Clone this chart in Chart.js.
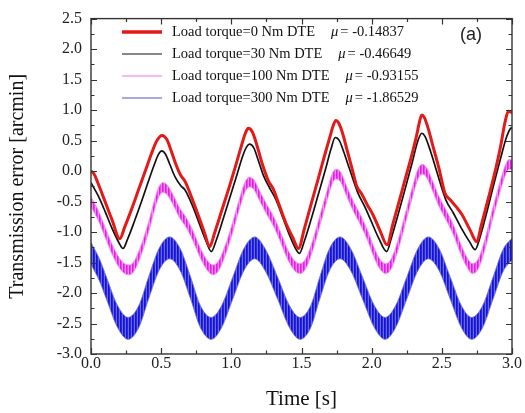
<!DOCTYPE html>
<html>
<head>
<meta charset="utf-8">
<script src="https://cdn.jsdelivr.net/npm/chart.js@4"></script>
<style>
  body { margin: 0; background: #fff; }
</style>
</head>
<body>
<canvas id="c" width="525" height="413"></canvas>
<script>
// Load torque = 0 Nm (red)
const tRed = [0.00, 0.02, 0.05, 0.10, 0.15, 0.205, 0.24, 0.29, 0.34, 0.39, 0.43, 0.47, 0.506, 0.54, 0.57, 0.60, 0.639, 0.67, 0.72, 0.77, 0.81, 0.846,
  0.88, 0.93, 0.98, 1.03, 1.07, 1.10, 1.121, 1.15, 1.18, 1.22, 1.264, 1.30, 1.34, 1.39, 1.44, 1.478,
  1.52, 1.57, 1.62, 1.67, 1.705, 1.725, 1.745, 1.765, 1.79, 1.83, 1.865, 1.894, 1.93, 1.97, 2.01, 2.06, 2.11,
  2.15, 2.20, 2.25, 2.29, 2.32, 2.34, 2.357, 2.375, 2.40, 2.44, 2.48, 2.523, 2.56, 2.60, 2.64, 2.70, 2.749,
  2.78, 2.83, 2.88, 2.92, 2.95, 2.974, 3.00];
const errRed = [0.00, -0.04, -0.20, -0.50, -0.80, -1.11, -0.92, -0.62, -0.30, 0.02, 0.28, 0.50, 0.585, 0.52, 0.34, 0.14, -0.07, -0.17, -0.45, -0.76, -1.02, -1.24,
  -1.02, -0.66, -0.30, 0.08, 0.40, 0.62, 0.70, 0.64, 0.44, 0.12, -0.16, -0.30, -0.55, -0.86, -1.10, -1.27,
  -0.95, -0.53, -0.12, 0.30, 0.58, 0.74, 0.83, 0.79, 0.64, 0.30, 0.00, -0.25, -0.38, -0.56, -0.72, -0.98, -1.21,
  -0.88, -0.46, -0.04, 0.30, 0.58, 0.80, 0.92, 0.88, 0.72, 0.38, 0.04, -0.37, -0.47, -0.58, -0.70, -0.96, -1.16,
  -0.90, -0.46, 0.00, 0.42, 0.80, 0.98, 0.96];

// Load torque = 30 Nm (black)
const tBlack = [0.00, 0.05, 0.10, 0.15, 0.20, 0.228, 0.26, 0.31, 0.36, 0.41, 0.45, 0.48, 0.505, 0.53, 0.56, 0.60, 0.64, 0.67, 0.72, 0.77, 0.82, 0.857,
  0.89, 0.94, 0.99, 1.04, 1.08, 1.11, 1.13, 1.16, 1.19, 1.23, 1.276, 1.32, 1.37, 1.42, 1.46, 1.485,
  1.52, 1.57, 1.62, 1.67, 1.71, 1.74, 1.77, 1.80, 1.84, 1.90, 1.95, 2.00, 2.05, 2.107,
  2.14, 2.19, 2.24, 2.29, 2.33, 2.357, 2.38, 2.42, 2.46, 2.53, 2.58, 2.64, 2.70, 2.737,
  2.77, 2.82, 2.87, 2.92, 2.96, 2.99, 3.00];
const errBlack = [-0.19, -0.40, -0.66, -0.94, -1.18, -1.27, -1.12, -0.82, -0.50, -0.16, 0.10, 0.27, 0.33, 0.28, 0.12, -0.10, -0.24, -0.31, -0.55, -0.85, -1.15, -1.32,
  -1.15, -0.80, -0.43, -0.06, 0.24, 0.40, 0.44, 0.38, 0.19, -0.08, -0.29, -0.48, -0.78, -1.08, -1.28, -1.35,
  -1.15, -0.78, -0.38, 0.02, 0.36, 0.55, 0.50, 0.32, 0.05, -0.35, -0.58, -0.84, -1.10, -1.32,
  -1.10, -0.70, -0.28, 0.15, 0.50, 0.62, 0.57, 0.32, 0.02, -0.48, -0.68, -0.94, -1.17, -1.29,
  -1.10, -0.68, -0.22, 0.22, 0.55, 0.70, 0.71];

// Load torque = 100 Nm (magenta band, upper / lower envelope)
const tPink = [0.00, 0.05, 0.10, 0.15, 0.20, 0.24, 0.275, 0.31, 0.36, 0.41, 0.45, 0.48, 0.51, 0.54, 0.58, 0.63, 0.68, 0.73, 0.78, 0.83, 0.87,
  0.91, 0.96, 1.01, 1.06, 1.10, 1.13, 1.16, 1.20, 1.25, 1.30, 1.35, 1.40, 1.45, 1.49,
  1.53, 1.58, 1.63, 1.68, 1.72, 1.745, 1.78, 1.82, 1.87, 1.92, 1.97, 2.02, 2.06, 2.10,
  2.14, 2.19, 2.24, 2.29, 2.33, 2.36, 2.39, 2.43, 2.48, 2.53, 2.58, 2.63, 2.68, 2.72,
  2.76, 2.81, 2.86, 2.91, 2.95, 2.98, 3.00];
const pinkUpper = [-0.42, -0.64, -0.92, -1.20, -1.42, -1.52, -1.54, -1.47, -1.20, -0.84, -0.50, -0.28, -0.19, -0.22, -0.37, -0.60, -0.77, -1.00, -1.27, -1.47, -1.54,
  -1.47, -1.20, -0.84, -0.44, -0.17, -0.10, -0.14, -0.32, -0.54, -0.74, -1.00, -1.28, -1.47, -1.52,
  -1.44, -1.14, -0.74, -0.34, -0.04, 0.03, -0.02, -0.24, -0.50, -0.72, -0.97, -1.27, -1.45, -1.52,
  -1.44, -1.12, -0.70, -0.27, 0.03, 0.11, 0.06, -0.14, -0.42, -0.64, -0.87, -1.17, -1.42, -1.52,
  -1.44, -1.10, -0.64, -0.22, 0.08, 0.19, 0.18];
const pinkLower = [-0.58, -0.80, -1.08, -1.36, -1.58, -1.68, -1.70, -1.63, -1.36, -1.00, -0.66, -0.44, -0.35, -0.38, -0.53, -0.76, -0.93, -1.16, -1.43, -1.63, -1.70,
  -1.63, -1.36, -1.00, -0.60, -0.33, -0.26, -0.30, -0.48, -0.70, -0.90, -1.16, -1.44, -1.63, -1.68,
  -1.60, -1.30, -0.90, -0.50, -0.20, -0.13, -0.18, -0.40, -0.66, -0.88, -1.13, -1.43, -1.61, -1.68,
  -1.60, -1.28, -0.86, -0.43, -0.13, -0.05, -0.10, -0.30, -0.58, -0.80, -1.03, -1.33, -1.58, -1.68,
  -1.60, -1.26, -0.80, -0.38, -0.08, 0.03, 0.02];

// Load torque = 300 Nm (blue band, upper / lower envelope)
const tBlue = [0.00, 0.06, 0.11, 0.19, 0.264, 0.34, 0.41, 0.485, 0.56, 0.635, 0.71, 0.78, 0.857,
  0.93, 1.01, 1.09, 1.167, 1.24, 1.33, 1.415, 1.49, 1.565, 1.63, 1.70, 1.775, 1.85, 1.935, 2.02, 2.096,
  2.17, 2.25, 2.33, 2.404, 2.48, 2.56, 2.64, 2.713, 2.79, 2.865, 2.94, 3.00];
const blueUpper = [-1.17, -1.44, -1.74, -2.21, -2.40, -2.21, -1.74, -1.27, -1.08, -1.27, -1.74, -2.21, -2.40,
  -2.21, -1.74, -1.27, -1.08, -1.27, -1.74, -2.21, -2.40, -2.21, -1.74, -1.27, -1.08, -1.27, -1.74, -2.21, -2.40,
  -2.21, -1.74, -1.27, -1.08, -1.27, -1.74, -2.21, -2.40, -2.21, -1.74, -1.27, -1.10];
const blueLower = [-1.53, -1.80, -2.10, -2.57, -2.76, -2.57, -2.10, -1.63, -1.44, -1.63, -2.10, -2.57, -2.76,
  -2.57, -2.10, -1.63, -1.44, -1.63, -2.10, -2.57, -2.76, -2.57, -2.10, -1.63, -1.44, -1.63, -2.10, -2.57, -2.76,
  -2.57, -2.10, -1.63, -1.44, -1.63, -2.10, -2.57, -2.76, -2.57, -2.10, -1.63, -1.46];

// Legend text
const legendLabels = ['Load torque=0 Nm DTE', 'Load torque=30 Nm DTE', 'Load torque=100 Nm DTE', 'Load torque=300 Nm DTE'];
const muValues = ['-0.14837', '-0.46649', '-0.93155', '-1.86529'];
const xTitle = 'Time [s]';
const yTitle = 'Transmission error [arcmin]';
const panelTag = '(a)';

const SERIF = '"Liberation Serif", "Times New Roman", serif';

const canvas = document.getElementById('c');
const ctx0 = canvas.getContext('2d');

// vertical stripe fill to imitate the dense oscillation of the bands
function stripes(cols) {
  const c = document.createElement('canvas');
  c.width = cols.length;
  c.height = 4;
  const g = c.getContext('2d');
  cols.forEach((col, i) => { g.fillStyle = col; g.fillRect(i, 0, 1, 4); });
  return ctx0.createPattern(c, 'repeat');
}

const pts = (xs, ys) => xs.map((x, i) => ({x: x, y: ys[i]}));

const legendStyles = [
  {color: '#e41a1a', width: 3.5},
  {color: '#111111', width: 1},
  {color: '#f2a2f2', width: 1.5},
  {color: '#8c8cd0', width: 1.5}
];

// frame + inward ticks on all four sides
const frame = {
  id: 'frame',
  afterDatasetsDraw(chart) {
    const {ctx, chartArea: {left, right, top, bottom}, scales: {x, y}} = chart;
    ctx.save();
    ctx.strokeStyle = '#333';
    ctx.lineWidth = 1.4;
    ctx.strokeRect(left, top, right - left, bottom - top);
    ctx.lineWidth = 1.2;
    ctx.beginPath();
    for (let v = 0; v <= 3.0001; v += 0.25) {
      const px = Math.round(x.getPixelForValue(v)) + 0.5;
      const len = Math.abs(v * 2 - Math.round(v * 2)) < 1e-6 ? 6 : 3.5;
      ctx.moveTo(px, bottom); ctx.lineTo(px, bottom - len);
      ctx.moveTo(px, top); ctx.lineTo(px, top + len);
    }
    for (let v = -3; v <= 2.5001; v += 0.25) {
      const py = Math.round(y.getPixelForValue(v)) + 0.5;
      const len = Math.abs(v * 2 - Math.round(v * 2)) < 1e-6 ? 6 : 3.5;
      ctx.moveTo(left, py); ctx.lineTo(left + len, py);
      ctx.moveTo(right, py); ctx.lineTo(right - len, py);
    }
    ctx.stroke();
    ctx.restore();
  }
};

// legend with italic mu, and the panel tag
const legendBox = {
  id: 'legendBox',
  afterDraw(chart) {
    const {ctx} = chart;
    ctx.save();
    ctx.textBaseline = 'middle';
    legendLabels.forEach((label, i) => {
      const yy = 32 + i * 22;
      const st = legendStyles[i];
      ctx.strokeStyle = st.color;
      ctx.lineWidth = st.width;
      ctx.beginPath();
      ctx.moveTo(122, yy);
      ctx.lineTo(162, yy);
      ctx.stroke();

      ctx.fillStyle = '#111';
      ctx.font = '14.5px ' + SERIF;
      ctx.textAlign = 'left';
      ctx.fillText(label, 172, yy);
      let xx = 172 + ctx.measureText(label).width + 16;
      ctx.font = 'italic 14.5px ' + SERIF;
      ctx.fillText('\u03bc', xx, yy);
      xx += ctx.measureText('\u03bc').width + 2;
      ctx.font = '14.5px ' + SERIF;
      ctx.fillText('= ' + muValues[i], xx, yy);
    });
    ctx.font = '18px "Liberation Sans", Arial, sans-serif';
    ctx.fillStyle = '#222';
    ctx.textAlign = 'left';
    ctx.fillText(panelTag, 460, 35);
    ctx.restore();
  }
};

new Chart(canvas, {
  type: 'line',
  data: {
    datasets: [
      {
        label: legendLabels[0],
        data: pts(tRed, errRed),
        borderColor: '#e41a1a',
        borderWidth: 3,
        order: 0
      },
      {
        label: legendLabels[1],
        data: pts(tBlack, errBlack),
        borderColor: '#111',
        borderWidth: 1.7,
        order: 1
      },
      {
        label: legendLabels[2] + ' upper',
        data: pts(tPink, pinkUpper),
        borderColor: 'rgba(242,140,242,0.9)',
        borderWidth: 1,
        fill: false,
        order: 2
      },
      {
        label: legendLabels[2] + ' lower',
        data: pts(tPink, pinkLower),
        borderColor: 'rgba(242,140,242,0.9)',
        borderWidth: 1,
        fill: '-1',
        backgroundColor: stripes(['#e020e0', '#ee44ee', '#f38cf3']),
        order: 2
      },
      {
        label: legendLabels[3] + ' upper',
        data: pts(tBlue, blueUpper),
        borderColor: 'rgba(110,110,210,0.85)',
        borderWidth: 1,
        fill: false,
        order: 3
      },
      {
        label: legendLabels[3] + ' lower',
        data: pts(tBlue, blueLower),
        borderColor: 'rgba(110,110,210,0.85)',
        borderWidth: 1,
        fill: '-1',
        backgroundColor: stripes(['#1212dc', '#2626e4', '#6a6ad8']),
        order: 3
      }
    ]
  },
  options: {
    responsive: false,
    animation: false,
    layout: { padding: { left: 0, top: 14, right: 13, bottom: 0 } },
    elements: {
      point: { radius: 0 },
      line: { cubicInterpolationMode: 'monotone' }
    },
    plugins: {
      legend: { display: false },
      tooltip: { enabled: false }
    },
    scales: {
      x: {
        type: 'linear',
        min: 0,
        max: 3,
        grid: { display: false, drawTicks: false },
        border: { display: false },
        ticks: {
          stepSize: 0.5,
          padding: 0,
          color: '#222',
          font: { family: SERIF, size: 16 },
          maxRotation: 0,
          callback: v => Math.abs(v).toFixed(1) === '0.0' ? '0.0' : v.toFixed(1)
        },
        title: {
          display: true,
          text: xTitle,
          color: '#111',
          font: { family: SERIF, size: 21 },
          padding: { top: 0, bottom: 1 }
        },
        afterFit: s => { s.height = 59; }
      },
      y: {
        min: -3,
        max: 2.5,
        grid: { display: false, drawTicks: false },
        border: { display: false },
        ticks: {
          stepSize: 0.5,
          padding: 9,
          color: '#222',
          font: { family: SERIF, size: 16 },
          callback: v => Math.abs(v).toFixed(1) === '0.0' ? '0.0' : v.toFixed(1)
        },
        title: {
          display: true,
          text: yTitle,
          color: '#111',
          font: { family: SERIF, size: 20 },
          padding: { top: 6, bottom: 0 }
        },
        afterFit: s => { s.width = 91; }
      }
    }
  },
  plugins: [frame, legendBox]
});
</script>
</body>
</html>
